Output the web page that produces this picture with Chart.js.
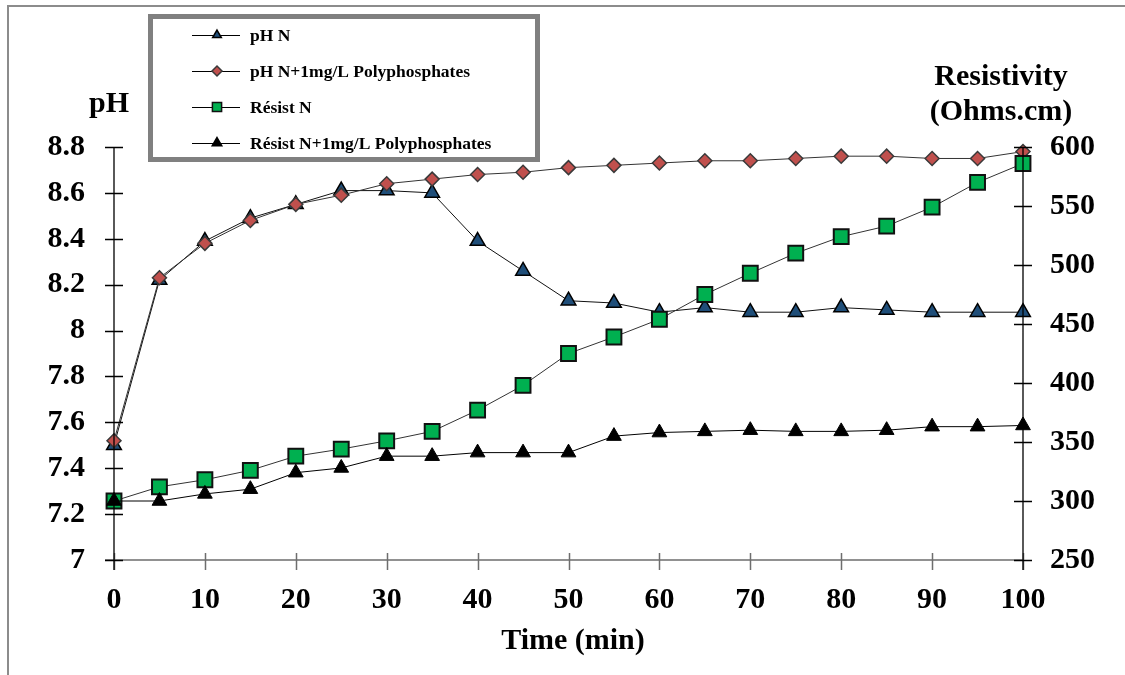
<!DOCTYPE html>
<html>
<head>
<meta charset="utf-8">
<script src="https://cdn.jsdelivr.net/npm/chart.js@4/dist/chart.umd.min.js"></script>
<style>
  html, body { margin: 0; padding: 0; background: #fff; }
  #wrap { width: 1125px; height: 675px; }
</style>
</head>
<body>
<div id="wrap"><canvas id="chart"></canvas></div>
<script>
const times = [0, 5, 10, 15, 20, 25, 30, 35, 40, 45, 50, 55, 60, 65, 70, 75, 80, 85, 90, 95, 100];
const phN = [7.50, 8.22, 8.39, 8.49, 8.55, 8.61, 8.61, 8.60, 8.39, 8.26, 8.13, 8.12, 8.08, 8.10, 8.08, 8.08, 8.10, 8.09, 8.08, 8.08, 8.08];
const phNPoly = [7.52, 8.23, 8.38, 8.48, 8.55, 8.59, 8.64, 8.66, 8.68, 8.69, 8.71, 8.72, 8.73, 8.74, 8.74, 8.75, 8.76, 8.76, 8.75, 8.75, 8.78];
const resistN = [300, 312, 318, 326, 338, 344, 351, 359, 377, 398, 425, 439, 454, 475, 493, 510, 524, 533, 549, 570, 586];
const resistNPoly = [300, 300, 306, 310, 324, 328, 338, 338, 341, 341, 341, 355, 358, 359, 360, 359, 359, 360, 363, 363, 364];
const seriesNames = ["pH N", "pH N+1mg/L Polyphosphates", "Résist N", "Résist N+1mg/L Polyphosphates"];

const FONT = "'Liberation Serif', 'Times New Roman', serif";

function pts(values) {
  return times.map((t, i) => ({ x: t, y: values[i] }));
}

// crossing tick marks, frame, titles and the boxed legend
const decorations = {
  id: "decorations",
  afterDraw(chart) {
    const ctx = chart.ctx;
    const { x, y, y2 } = chart.scales;
    const area = chart.chartArea;
    ctx.save();

    // outer frame (top and left edges only are visible)
    ctx.strokeStyle = "#8c8c8c";
    ctx.lineWidth = 2;
    ctx.beginPath();
    ctx.moveTo(8, 675); ctx.lineTo(8, 6); ctx.lineTo(1125, 6);
    ctx.stroke();

    // x axis line + ticks
    ctx.strokeStyle = "#6e6e6e";
    ctx.lineWidth = 1.5;
    ctx.beginPath();
    ctx.moveTo(area.left - 9, area.bottom); ctx.lineTo(area.right, area.bottom);
    x.ticks.forEach(t => {
      const px = Math.round(x.getPixelForValue(t.value)) + 0.5;
      ctx.moveTo(px, area.bottom - 7); ctx.lineTo(px, area.bottom + 10);
    });
    ctx.stroke();

    // y axes
    ctx.strokeStyle = "#000";
    ctx.lineWidth = 1.3;
    ctx.beginPath();
    ctx.moveTo(area.left, area.top); ctx.lineTo(area.left, area.bottom + 10);
    ctx.moveTo(area.right, area.top); ctx.lineTo(area.right, area.bottom + 10);
    y.ticks.forEach(t => {
      const py = Math.round(y.getPixelForValue(t.value)) + 0.5;
      ctx.moveTo(area.left - 9, py); ctx.lineTo(area.left + 9, py);
    });
    y2.ticks.forEach(t => {
      const py = Math.round(y2.getPixelForValue(t.value)) + 0.5;
      ctx.moveTo(area.right - 9, py); ctx.lineTo(area.right + 9, py);
    });
    ctx.stroke();

    // axis titles
    ctx.fillStyle = "#000";
    ctx.font = "bold 30px " + FONT;
    ctx.textAlign = "center";
    ctx.textBaseline = "middle";
    ctx.fillText("pH", 109, 104);
    ctx.fillText("Resistivity", 1001, 77);
    ctx.fillText("(Ohms.cm)", 1001, 112);
    ctx.fillText("Time (min)", 573, 641);

    // legend box
    ctx.strokeStyle = "#808080";
    ctx.lineWidth = 5;
    ctx.strokeRect(150.5, 16.5, 387, 143);
    const rows = [35, 71, 107, 143];
    const legendRadius = [5, 5, 6.5, 5.5];
    ctx.font = "bold 17.5px " + FONT;
    ctx.textAlign = "left";
    seriesNames.forEach((name, i) => {
      const ds = chart.data.datasets.find(d => d.label === name);
      const ry = rows[i];
      ctx.strokeStyle = "#000";
      ctx.lineWidth = 1;
      ctx.beginPath();
      ctx.moveTo(192, ry + 0.5); ctx.lineTo(240, ry + 0.5);
      ctx.stroke();
      ctx.fillStyle = ds.pointBackgroundColor;
      ctx.strokeStyle = ds.pointBorderColor;
      ctx.lineWidth = 1.5;
      Chart.helpers.drawPoint(ctx, { pointStyle: ds.pointStyle, radius: legendRadius[i], rotation: 0, borderWidth: 1.5 }, 217, ry);
      ctx.fillStyle = "#000";
      ctx.fillText(name, 250, ry + 1);
    });

    ctx.restore();
  }
};

new Chart(document.getElementById("chart"), {
  type: "line",
  data: {
    datasets: [
      {
        label: seriesNames[3],
        data: pts(resistNPoly),
        yAxisID: "y2",
        borderColor: "#000",
        borderWidth: 1,
        pointStyle: "triangle",
        pointRadius: 8.5,
        pointBackgroundColor: "#000",
        pointBorderColor: "#000",
        pointBorderWidth: 1,
        clip: false,
        order: 0
      },
      {
        label: seriesNames[2],
        data: pts(resistN),
        yAxisID: "y2",
        borderColor: "#333",
        borderWidth: 1,
        pointStyle: "rect",
        pointRadius: 10.5,
        pointBackgroundColor: "#00b050",
        pointBorderColor: "#111",
        pointBorderWidth: 2,
        clip: false,
        order: 1
      },
      {
        label: seriesNames[1],
        data: pts(phNPoly),
        yAxisID: "y",
        borderColor: "#333",
        borderWidth: 1,
        pointStyle: "rectRot",
        pointRadius: 7,
        pointBackgroundColor: "#c0504d",
        pointBorderColor: "#3a3a3a",
        pointBorderWidth: 1.5,
        clip: false,
        order: 2
      },
      {
        label: seriesNames[0],
        data: pts(phN),
        yAxisID: "y",
        borderColor: "#111",
        borderWidth: 1,
        pointStyle: "triangle",
        pointRadius: 8.5,
        pointBackgroundColor: "#1f4e79",
        pointBorderColor: "#000",
        pointBorderWidth: 1.5,
        clip: false,
        order: 3
      }
    ]
  },
  options: {
    responsive: true,
    maintainAspectRatio: false,
    animation: false,
    layout: { padding: { top: 147, left: 0, right: 0, bottom: 0 } },
    plugins: {
      legend: { display: false },
      tooltip: { enabled: false }
    },
    scales: {
      x: {
        type: "linear",
        min: 0,
        max: 100,
        ticks: {
          stepSize: 10,
          padding: 22,
          color: "#000",
          font: { family: FONT, size: 30, weight: "bold" },
          maxRotation: 0
        },
        grid: { display: false, drawTicks: false, tickLength: 0 },
        border: { display: false },
        afterFit: s => { s.height = 115; }
      },
      y: {
        position: "left",
        min: 7,
        max: 8.8,
        ticks: {
          stepSize: 0.2,
          padding: 29,
          color: "#000",
          font: { family: FONT, size: 30, weight: "bold" },
          callback: v => String(parseFloat(v.toFixed(1)))
        },
        grid: { display: false, drawTicks: false, tickLength: 0 },
        border: { display: false },
        afterFit: s => { s.width = 114; }
      },
      y2: {
        position: "right",
        min: 250,
        max: 600,
        ticks: {
          stepSize: 50,
          padding: 27,
          color: "#000",
          font: { family: FONT, size: 30, weight: "bold" }
        },
        grid: { display: false, drawTicks: false, tickLength: 0 },
        border: { display: false },
        afterFit: s => { s.width = 102; }
      }
    }
  },
  plugins: [decorations]
});
</script>
</body>
</html>
